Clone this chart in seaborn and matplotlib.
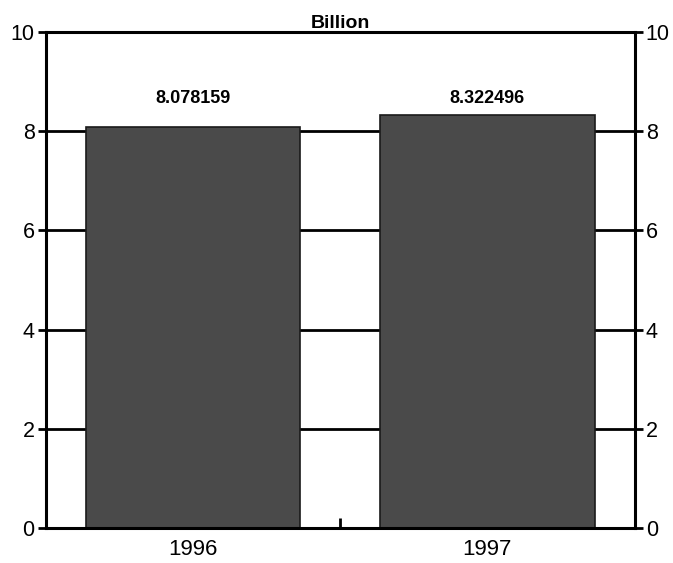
import matplotlib
matplotlib.use("Agg")
import matplotlib.pyplot as plt
import seaborn as sns
import pandas as pd

# Values
years = ["1996", "1997"]
values = [8.078159, 8.322496]
value_labels = ["8.078159", "8.322496"]
y_ticks = [0, 2, 4, 6, 8, 10]

df = pd.DataFrame({"Year": years, "Value": values})

sns.set_style("white")
plt.rcParams["font.family"] = ["Liberation Sans", "DejaVu Sans"]
plt.rcParams["text.color"] = "black"
plt.rcParams["xtick.color"] = "black"
plt.rcParams["ytick.color"] = "black"

fig = plt.figure(figsize=(6.73, 5.63), dpi=100)
ax = fig.add_axes([0.068, 0.062, 0.875, 0.881])

# Horizontal grid lines behind the bars
for t in y_ticks[1:-1]:
    ax.axhline(t, color="black", lw=2, zorder=0)

sns.barplot(data=df, x="Year", y="Value", color="#4a4a4a", width=0.73,
            saturation=1, edgecolor="#1a1a1a", linewidth=1.2, ax=ax, zorder=2)

for i, lab in enumerate(value_labels):
    ax.text(i, 8.66, lab, ha="center", va="center", fontsize=13, fontweight="bold")

ax.set_xlim(-0.5, 1.5)
ax.set_ylim(0, 10)
ax.set_yticks(y_ticks)
ax.set_xlabel("")
ax.set_ylabel("")
ax.set_title("Billion", fontsize=14, fontweight="bold", pad=3)

for s in ax.spines.values():
    s.set_linewidth(2.2)
    s.set_color("black")

ax.tick_params(axis="y", left=True, right=True, labelleft=True, labelright=True,
               direction="out", length=6, width=2, labelsize=15.5, pad=2)
ax.tick_params(axis="x", bottom=False, labelsize=16, pad=4)

# Small tick between the two bars
ax.set_xticks([0.5], minor=True)
ax.tick_params(axis="x", which="minor", bottom=True, direction="in", length=7, width=2)

fig.savefig("out.png", dpi=100)
